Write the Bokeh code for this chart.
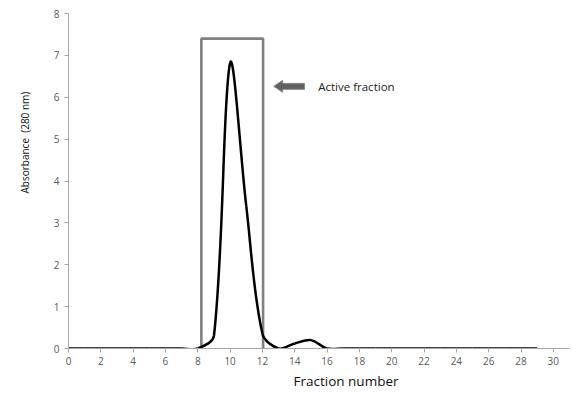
import numpy as np
from bokeh.plotting import figure
from bokeh.models import Label, Range1d, FixedTicker, Title
from bokeh.embed import file_html
from bokeh.resources import INLINE

# ---- data ----
fraction = list(range(0, 30))
absorbance = [0, 0, 0, 0, 0, 0, 0, 0, 0.0, 0.3, 6.82, 3.4, 0.35, 0.0, 0.12, 0.2,
              0, 0, 0, 0, 0, 0, 0, 0, 0, 0, 0, 0, 0, 0]
x_ticks = list(range(0, 31, 2))
y_ticks = list(range(0, 9))
box_left, box_right, box_top = 8.22, 12.04, 7.4
arrow_tip, arrow_tail, arrow_y = 12.7, 14.6, 6.26
label_text = "Active fraction"
x_title = "Fraction number"
y_title = "Absorbance\u00a0 (280 nm)"

W, H = 572, 394
p = figure(width=W, height=H, output_backend="svg", toolbar_location=None,
           x_range=Range1d(0, 31), y_range=Range1d(0, 8),
           min_border_left=68, min_border_right=3, min_border_top=13, min_border_bottom=46)
p.outline_line_color = None
p.xgrid.visible = False
p.ygrid.visible = False
p.background_fill_color = "white"

# approximate pixel scale factors (for smoothing in screen-like space)
sx = 16.17
sy = 41.9

# Excel-like smoothed curve via cubic Beziers
X = np.array(fraction, dtype=float)
Y = np.array(absorbance, dtype=float)
n = len(X)
PX, PY = X * sx, Y * sy
d = np.hypot(np.diff(PX), np.diff(PY))
x0, y0, x1, y1, cx0, cy0, cx1, cy1 = [], [], [], [], [], [], [], []
for i in range(n - 1):
    im1 = max(i - 1, 0)
    ip2 = min(i + 2, n - 1)
    dprev = d[i - 1] if i > 0 else d[i]
    dnext = d[i + 1] if i + 1 < n - 1 else d[i]
    tx, ty = PX[i + 1] - PX[im1], PY[i + 1] - PY[im1]
    f1 = d[i] / (dprev + d[i]) / 3 if (dprev + d[i]) > 0 else 0
    c1x, c1y = PX[i] + tx * f1, PY[i] + ty * f1
    tx2, ty2 = PX[ip2] - PX[i], PY[ip2] - PY[i]
    f2 = d[i] / (d[i] + dnext) / 3 if (d[i] + dnext) > 0 else 0
    c2x, c2y = PX[i + 1] - tx2 * f2, PY[i + 1] - ty2 * f2
    x0.append(X[i]); y0.append(Y[i]); x1.append(X[i + 1]); y1.append(Y[i + 1])
    cx0.append(c1x / sx); cy0.append(c1y / sy); cx1.append(c2x / sx); cy1.append(c2y / sy)

# box
p.line([box_left, box_left, box_right, box_right], [0, box_top, box_top, 0],
       line_color="#808080", line_width=2.6)

p.bezier(x0=x0, y0=y0, x1=x1, y1=y1, cx0=cx0, cy0=cy0, cx1=cx1, cy1=cy1,
         line_color="black", line_width=2.5)

# block arrow
hw_body = 3.0 / sy
hw_head = 6.0 / sy
head_len = 9.0 / sx
ax = [arrow_tip, arrow_tip + head_len, arrow_tip + head_len, arrow_tail, arrow_tail,
      arrow_tip + head_len, arrow_tip + head_len]
ay = [arrow_y, arrow_y + hw_head, arrow_y + hw_body, arrow_y + hw_body, arrow_y - hw_body,
      arrow_y - hw_body, arrow_y - hw_head]
p.patch(ax, ay, fill_color="#606060", line_color="#8a8a8a", line_width=1)

p.add_layout(Label(x=15.45, y=arrow_y, text=label_text, text_font="Open Sans",
                   text_font_size="11.5px", text_color="#222222", text_baseline="middle"))

for ax_ in (p.xaxis[0], p.yaxis[0]):
    ax_.axis_line_color = "#a6a6a6"
    ax_.major_tick_line_color = "#a6a6a6"
    ax_.minor_tick_line_color = None
    ax_.major_tick_in = 0
    ax_.major_tick_out = 4
    ax_.major_label_text_font = "Open Sans"
    ax_.major_label_text_font_size = "10px"
    ax_.major_label_text_color = "#595959"

p.xaxis.ticker = FixedTicker(ticks=x_ticks)
p.yaxis.ticker = FixedTicker(ticks=y_ticks)
p.xaxis.major_label_standoff = 4
p.yaxis.major_label_standoff = 5

# axis titles as side titles (offset along the axis)
p.add_layout(Title(text=x_title, align="left", offset=225, standoff=4,
                   text_font="Open Sans", text_font_size="13.5px",
                   text_font_style="normal", text_color="#111111",
                   vertical_align="bottom"), "below")
p.add_layout(Title(text=y_title, align="left", offset=155, standoff=34,
                   text_font="Open Sans", text_font_size="10px",
                   text_font_style="normal", text_color="#111111",
                   vertical_align="top"), "left")

open("out.html", "w").write(file_html(p, INLINE))
